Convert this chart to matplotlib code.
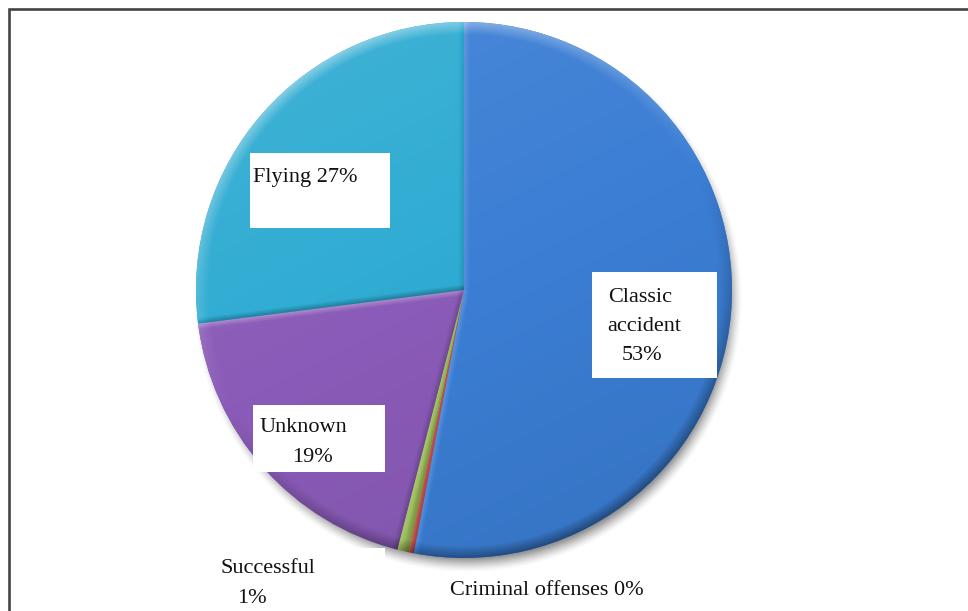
import numpy as np
import matplotlib
matplotlib.use("Agg")
import matplotlib.pyplot as plt
from matplotlib.patches import Rectangle
from matplotlib.colors import to_rgb

categories = ["Classic accident", "Criminal offenses", "Successful", "Unknown", "Flying"]
shares = [53, 0.3, 0.7, 19, 27]
colors = ["#3b7ed4", "#c0504d", "#9bbb59", "#8a5bb8", "#2eabd2"]

W, H = 968, 611
fig = plt.figure(figsize=(W / 100, H / 100), dpi=100)
ax = fig.add_axes([0, 0, 1, 1])

cx, cy, R = 464, H - 290, 268

# soft drop shadow under the pie
sx, sy = cx + 4, cy - 8
gx = np.linspace(sx - R - 30, sx + R + 30, 400)
gy = np.linspace(sy - R - 30, sy + R + 30, 400)
GX, GY = np.meshgrid(gx, gy)
d = np.hypot(GX - sx, GY - sy)
a = np.clip((R + 7 - d) / 14, 0, 1) ** 1.4 * 0.6
shadow = np.zeros(d.shape + (4,))
shadow[..., :3] = 0.3
shadow[..., 3] = a
ax.imshow(shadow, extent=(gx[0], gx[-1], gy[0], gy[-1]), origin="lower",
          zorder=1, interpolation="bilinear")

wedges, _ = ax.pie(shares, colors=colors, startangle=90, counterclock=False,
                   center=(cx, cy), radius=R, wedgeprops=dict(linewidth=0))

# bevel / gradient shading clipped to each wedge
n = 600
xs = np.linspace(cx - R, cx + R, n)
ys = np.linspace(cy - R, cy + R, n)
X, Y = np.meshgrid(xs, ys)
nx, ny = (X - cx) / R, (Y - cy) / R
r = np.hypot(nx, ny) + 1e-9
phi = np.degrees(np.arctan2(ny, nx))
light = np.array([-0.45, 0.9])
light = light / np.linalg.norm(light)

for w, col in zip(wedges, colors):
    c = np.array(to_rgb(col))
    k = 1 + 0.06 * ny - 0.03 * nx
    rim = np.clip((r - 0.955) / 0.045, 0, 1)
    k = k + rim * 0.35 * (light[0] * nx / r + light[1] * ny / r)
    for ang, sign in ((w.theta1, 1), (w.theta2, -1)):
        t = np.radians(ang)
        inward = sign * np.array([-np.sin(t), np.cos(t)])
        dphi = np.radians((phi - ang + 180) % 360 - 180)
        dist = np.abs(r * R * np.sin(dphi))
        band = np.clip(1 - dist / 6, 0, 1) * (np.cos(dphi) > 0)
        k = k - band * 0.3 * (inward @ light)
    k = k[..., None]
    rgb = np.where(k >= 1, c + (1 - c) * (k - 1), c * k)
    img = np.dstack([np.clip(rgb, 0, 1), np.ones(k.shape[:2])])
    im = ax.imshow(img, extent=(xs[0], xs[-1], ys[0], ys[-1]), origin="lower",
                   zorder=3, interpolation="bilinear")
    im.set_clip_path(w)
    w.set_zorder(2)

# label boxes and texts
font = dict(family="Liberation Serif", fontsize=16, color="#111111", zorder=6)
pct = [f"{v:.0f}%" for v in shares]

boxes = [(592, 272, 717, 378), (253, 405, 385, 472), (250, 153, 390, 228),
         (205, 548, 385, 611)]
for x0, y0, x1, y1 in boxes:
    ax.add_patch(Rectangle((x0, H - y1), x1 - x0, y1 - y0, facecolor="white",
                           edgecolor="none", zorder=5))

ax.text(608, H - 302, "Classic", **font)
ax.text(607, H - 331, "accident", **font)
ax.text(622, H - 360, pct[0], **font)
ax.text(450, H - 595, f"{categories[1]} {pct[1]}", **font)
ax.text(220, H - 573, categories[2], **font)
ax.text(237, H - 603, pct[2], **font)
ax.text(260, H - 432, categories[3], **font)
ax.text(292, H - 462, pct[3], **font)
ax.text(253, H - 182, f"{categories[4]} {pct[4]}", **font)

# chart area frame
ax.plot([9, 9, W], [0, H - 9, H - 9], color="#444444", lw=1.9, zorder=7,
        solid_joinstyle="miter")

ax.set_xlim(0, W)
ax.set_ylim(0, H)
ax.set_aspect("auto")
ax.axis("off")
fig.savefig("out.png", dpi=100)
